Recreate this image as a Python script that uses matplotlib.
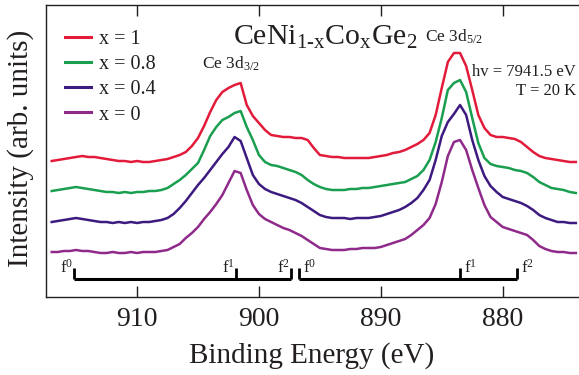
import numpy as np
import matplotlib
matplotlib.use("Agg")
import matplotlib.pyplot as plt

plt.rcParams['font.family'] = ['Liberation Serif', 'DejaVu Serif']
plt.rcParams['mathtext.fontset'] = 'custom'
plt.rcParams['mathtext.rm'] = 'Liberation Serif'
plt.rcParams['mathtext.it'] = 'Liberation Serif:italic'
plt.rcParams['mathtext.bf'] = 'Liberation Serif:bold'
plt.rcParams['mathtext.default'] = 'regular'

# ---------------- data ----------------
energy = np.arange(917.0, 873.75, -0.5)   # binding energy grid (eV)

x_1 = [136, 137, 138, 139, 140, 141, 140, 140, 139, 138, 137, 136, 136, 135, 136, 135,
       135, 136, 137, 138, 140, 142, 145, 151, 159, 171, 185, 197, 205, 209, 212, 214,
       192, 181, 174, 167, 162, 161, 160, 160, 159, 159, 157, 149, 142, 141, 140, 140,
       139, 139, 139, 139, 139, 140, 141, 142, 144, 145, 147, 150, 153, 157, 164, 182,
       209, 235, 244, 244, 231, 207, 182, 169, 162, 160, 160, 159, 158, 155, 150, 145,
       141, 139, 138, 137, 136, 135, 135]
x_08 = [106, 107, 108, 109, 110, 109, 108, 107, 106, 105, 105, 104, 105, 104, 105, 105,
        106, 106, 107, 109, 113, 117, 122, 128, 134, 147, 161, 170, 177, 180, 184, 186,
        170, 157, 142, 135, 132, 131, 129, 127, 125, 122, 117, 113, 110, 108, 107, 107,
        107, 108, 108, 109, 109, 110, 111, 112, 113, 114, 115, 118, 121, 127, 137, 155,
        179, 207, 214, 217, 205, 179, 154, 139, 133, 131, 130, 129, 127, 126, 124, 120,
        115, 112, 109, 108, 107, 105, 104]
x_04 = [75, 76, 77, 78, 79, 78, 77, 76, 75, 75, 74, 75, 74, 75, 74, 75,
        75, 76, 77, 79, 83, 89, 96, 104, 112, 119, 127, 135, 143, 150, 160, 156,
        139, 122, 113, 108, 105, 103, 101, 99, 97, 94, 90, 86, 82, 80, 79, 79,
        79, 78, 79, 79, 79, 80, 81, 83, 85, 87, 90, 94, 99, 107, 117, 137,
        161, 175, 183, 192, 182, 157, 137, 121, 111, 105, 100, 98, 96, 94, 91, 87,
        82, 79, 77, 75, 75, 74, 74]
x_0 = [45, 45, 46, 46, 47, 46, 46, 45, 44, 44, 45, 44, 44, 45, 44, 45,
       45, 45, 46, 47, 50, 53, 59, 64, 70, 78, 85, 93, 102, 114, 126, 124,
       107, 92, 83, 78, 75, 72, 69, 67, 64, 61, 57, 53, 49, 48, 47, 47,
       47, 48, 48, 49, 49, 49, 50, 52, 54, 56, 58, 62, 67, 72, 79, 93,
       115, 141, 155, 157, 147, 127, 109, 92, 80, 75, 70, 68, 66, 64, 62, 57,
       51, 48, 46, 45, 45, 44, 44]

series = [x_1, x_08, x_04, x_0]
labels = ['x = 1', 'x = 0.8', 'x = 0.4', 'x = 0']
colors = ['#e31b3b', '#1a9e4f', '#3d1a80', '#8f2a8a']

f_left = [915.17, 901.88, 897.37]     # f0, f1, f2 of 3d3/2
f_right = [896.71, 883.50, 878.83]    # f0, f1, f2 of 3d5/2
f_names = ['f$^{0}$', 'f$^{1}$', 'f$^{2}$']

xticks = [910, 900, 890, 880]

# ---------------- figure ----------------
W, H = 579, 375
fig = plt.figure(figsize=(W / 100, H / 100), dpi=100)
ax = fig.add_axes([46 / W, 78 / H, 533 / W, 292 / H])
ax.set_xlim(917.47, 873.74)
ax.set_ylim(0, 292)

dark = '#231f20'
for y, lab, c in zip(series, labels, colors):
    ax.plot(energy, y, color=c, lw=1.8, label=lab)

# bracket markers
by, bt = 18, 29
for fs, side in ((f_left, 'right'), (f_right, 'left')):
    ax.plot([fs[0], fs[-1]], [by, by], color='black', lw=2.2, solid_capstyle='butt')
    for e, name in zip(fs, f_names):
        ax.plot([e, e], [by, bt], color='black', lw=2.0, solid_capstyle='butt')
        if side == 'right':
            ax.text(e + 0.1, 24, name, ha='right', va='baseline', fontsize=12, color=dark)
        else:
            ax.text(e - 0.3, 24, name, ha='left', va='baseline', fontsize=12, color=dark)

ax.set_xticks(xticks)
ax.set_xticklabels([str(t) for t in xticks])
ax.set_yticks([])
ax.tick_params(axis='x', direction='in', top=True, bottom=True, length=8, width=1,
               labelsize=20, pad=7, colors=dark)
ax.spines['right'].set_visible(False)
for s in ('left', 'top', 'bottom'):
    ax.spines[s].set_color(dark)
    ax.spines[s].set_linewidth(1.0)

leg = ax.legend(loc='upper left', bbox_to_anchor=((65 - 46) / 533, 1 - 25 / 292),
                frameon=False, fontsize=14.5, handlelength=1.3, handletextpad=0.4,
                labelspacing=0.3, borderpad=0, borderaxespad=0)
for t in leg.get_texts():
    t.set_color(dark)
for l in leg.get_lines():
    l.set_linewidth(2.2)

def ft(px, py, s, **kw):
    fig.text(px / W, 1 - py / H, s, color=dark, **kw)

ft(233, 45, 'CeNi$_{1\u2010x}$Co$_{x}$Ge$_{2}$', fontsize=21.5, ha='left', va='baseline')
ft(202, 69, 'Ce 3d$_{3/2}$', fontsize=12.5, ha='left', va='baseline')
ft(425, 42, 'Ce 3d$_{5/2}$', fontsize=12.5, ha='left', va='baseline')
ft(576, 76, 'hv = 7941.5 eV', fontsize=12, ha='right', va='baseline')
ft(576, 95, 'T = 20 K', fontsize=12, ha='right', va='baseline')
ft(312, 363, 'Binding Energy (eV)', fontsize=21, ha='center', va='baseline')
ft(21, 148, 'Intensity (arb. units)', fontsize=21, ha='center', va='center', rotation=90)

fig.savefig('out.png', dpi=100)
